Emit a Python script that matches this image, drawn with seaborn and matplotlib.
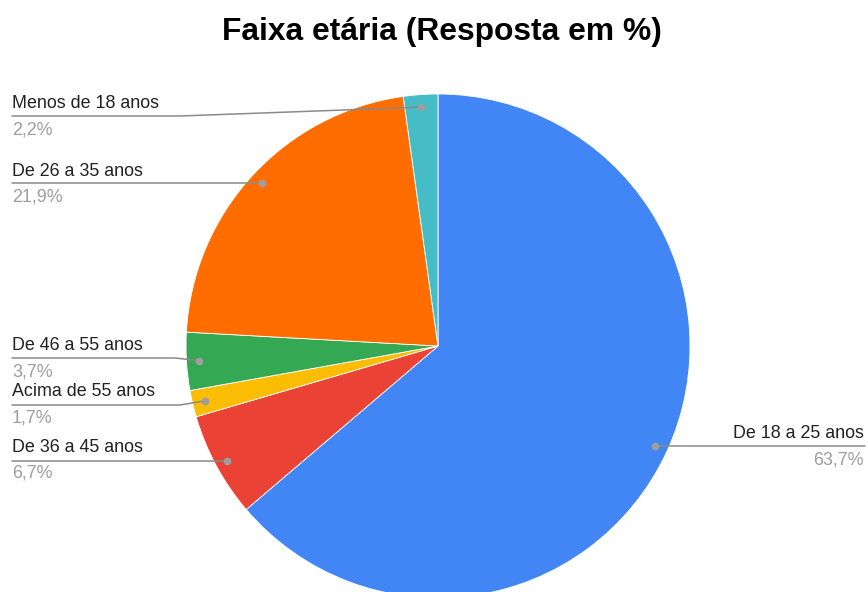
import matplotlib
matplotlib.use("Agg")
import matplotlib.pyplot as plt
import seaborn as sns
import numpy as np
from matplotlib.lines import Line2D

# Survey data: age ranges and share of answers (%)
categories = ["De 18 a 25 anos", "De 36 a 45 anos", "Acima de 55 anos",
              "De 46 a 55 anos", "De 26 a 35 anos", "Menos de 18 anos"]
values = [63.7, 6.7, 1.7, 3.7, 21.9, 2.2]
colors = ["#4285F4", "#EA4335", "#FBBC04", "#34A853", "#FF6D01", "#46BDC6"]

sns.set_style("white")
plt.rcParams["font.family"] = ["Liberation Sans", "DejaVu Sans"]

W, H = 868, 592
fig = plt.figure(figsize=(W / 100, H / 100), dpi=100)
fig.patch.set_facecolor("white")

# Pie centred at (438, 346) px with radius 252 px
cx, cy, r = 438, 346, 252
ax = fig.add_axes([(cx - r) / W, (H - cy - r) / H, 2 * r / W, 2 * r / H])
wedges, _ = ax.pie(values, colors=colors, startangle=90, counterclock=False,
                   wedgeprops=dict(linewidth=0.6, edgecolor="white"))
ax.set_xlim(-1, 1)
ax.set_ylim(-1, 1)
ax.set_aspect("equal")
ax.axis("off")

fig.text(442 / W, 1 - 32 / H, "Faixa etária (Resposta em %)",
         ha="center", va="center", fontsize=22.9, fontweight="bold", color="#000000")

# Label layout (px from top-left): text row, leader row, value row, knee x, side
layout = {
    "Menos de 18 anos": (103, 116, 130, 180, "left"),
    "De 26 a 35 anos": (171, 183, 197, None, "left"),
    "De 46 a 55 anos": (345, 358, 372, 175, "left"),
    "Acima de 55 anos": (392, 405, 418, 180, "left"),
    "De 36 a 45 anos": (448, 461, 473, None, "left"),
    "De 18 a 25 anos": (433, 446, 460, None, "right"),
}

to_fig = fig.transFigure.inverted()
line_col = "#8a8a8a"
dot_col = "#9e9e9e"
fs = 12.9

for w, cat, val in zip(wedges, categories, values):
    mid = np.deg2rad((w.theta1 + w.theta2) / 2)
    dot_disp = ax.transData.transform((0.95 * np.cos(mid), 0.95 * np.sin(mid)))
    dx, dy = to_fig.transform(dot_disp)
    ty, ly, py, knee, side = layout[cat]
    pct = f"{val:.1f}%".replace(".", ",")
    if side == "left":
        x0 = 12
        fig.text(x0 / W, 1 - ty / H, cat, ha="left", va="center", fontsize=fs, color="#222222")
        fig.text(x0 / W, 1 - py / H, pct, ha="left", va="center", fontsize=fs, color="#9e9e9e")
        xs = [x0 / W]
        ys = [1 - ly / H]
        if knee is not None:
            xs.append(knee / W)
            ys.append(1 - ly / H)
            xs.append(dx)
            ys.append(dy)
        else:
            xs.append(dx)
            ys.append(1 - ly / H)
    else:
        x1 = 864
        fig.text(x1 / W, 1 - ty / H, cat, ha="right", va="center", fontsize=fs, color="#222222")
        fig.text(x1 / W, 1 - py / H, pct, ha="right", va="center", fontsize=fs, color="#9e9e9e")
        xs = [dx, (x1 + 1) / W]
        ys = [1 - ly / H, 1 - ly / H]
    fig.add_artist(Line2D(xs, ys, transform=fig.transFigure, color=line_col, lw=1.1))
    fig.add_artist(Line2D([dx], [ys[-1] if side == "left" and knee is None else (dy if side == "left" else ys[0])],
                          transform=fig.transFigure, marker="o", markersize=4.5,
                          color=dot_col, linestyle="none"))

fig.savefig("out.png", dpi=100)
